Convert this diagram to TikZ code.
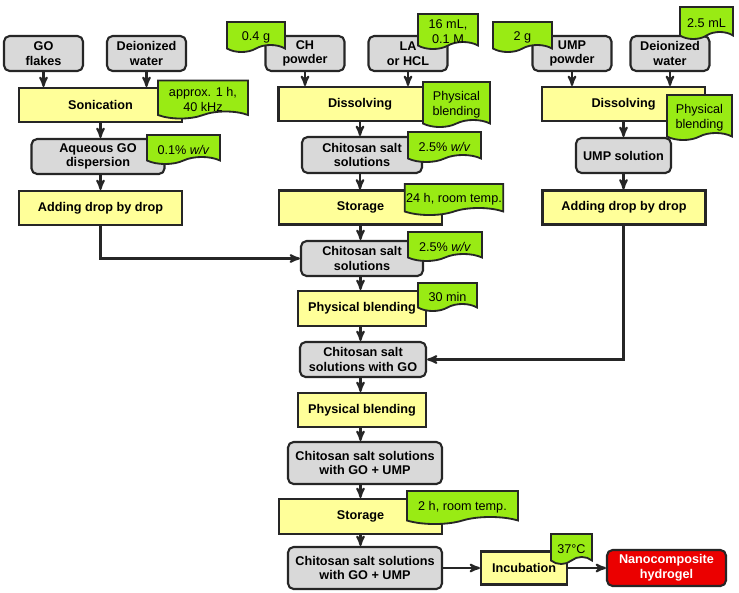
\documentclass[tikz,border=0pt]{standalone}
\usepackage{fontspec}
\setmainfont{Liberation Sans}
\usetikzlibrary{arrows, positioning, shapes}
\definecolor{my_gray}{RGB}{217, 217, 217}
\definecolor{my_yellow}{RGB}{255, 255, 153}
\definecolor{my_green}{RGB}{153, 235, 20}
\definecolor{my_red}{RGB}{235, 0, 0}
\newcommand\flowfont{\fontsize{9}{10.5}\selectfont}
\newcommand\down[1]{\raisebox{-2.5pt}[\height][\depth]{#1}}
\tikzset {
  sample/.style = {draw=black!85, line width=1.5pt, fill=my_gray, rounded corners=4pt, rectangle, align=center, font=\flowfont\bfseries, minimum width=1.975cm, minimum height=0.875cm, inner sep=1pt},
  stepbox/.style = {draw=black!85, line width=1.5pt, fill=my_yellow, rectangle, align=center, font=\flowfont\bfseries, minimum width=4.075cm, minimum height=0.85cm, inner sep=1pt},
  note/.style = {draw=black!85, line width=1.3pt, fill=my_green, tape, tape bend top=none, tape bend bottom=in and out, tape bend height=5pt, align=center, font=\flowfont, inner sep=1pt},
  product/.style = {draw=black!85, line width=1.5pt, fill=my_red, text=white, rounded corners=4pt, rectangle, align=center, font=\flowfont\bfseries, minimum height=0.9cm, inner sep=1pt},
  line/.style = {->, line width=1.5pt, color=black!85, >=stealth'},
}

\begin{document}
\begin{tikzpicture}[x=0.025cm, y=-0.025cm]
    \useasboundingbox (0,0) rectangle (739,593);

    % raw materials
    \node[sample] (go) at (43.5,53.5) {GO\\flakes};
    \node[sample] (water1) at (146.5,53.5) {Deionized\\water};
    \node[sample] (ch) at (305,53.5) {CH\\powder};
    \node[sample] (acid) at (408,53.5) {LA\\or HCL};
    \node[sample] (ump) at (572,53.5) {UMP\\powder};
    \node[sample] (water2) at (670,53.5) {Deionized\\water};

    \node[stepbox] (sonication) at (100.5,105) {Sonication};
    \node[stepbox] (dissolve1) at (360,104) {Dissolving};
    \node[stepbox] (dissolve2) at (623.5,104) {Dissolving};

    \node[sample, minimum width=3.325cm] (godisp) at (98,156.5) {Aqueous GO\\dispersion};
    \node[sample, minimum width=3cm, minimum height=0.9cm] (chsalt1) at (362,155) {Chitosan salt\\solutions};
    \node[sample, minimum width=2.375cm] (umpsol) at (623.5,155.5) {UMP solution};

    \node[stepbox] (adding1) at (100.5,208) {Adding drop by drop};
    \node[stepbox] (storage1) at (360.5,207.5) {Storage};
    \node[stepbox] (adding2) at (624,207.5) {Adding drop by drop};

    % main column
    \node[sample, minimum width=3.05cm] (chsalt2) at (362,258.5) {Chitosan salt\\solutions};
    \node[stepbox, minimum width=3.2cm, minimum height=0.875cm] (blend1) at (362,308.5) {Physical blending};
    \node[sample, minimum width=3.15cm] (chgo) at (363,359.5) {Chitosan salt\\solutions with GO};
    \node[stepbox, minimum width=3.2cm] (blend2) at (362,410) {Physical blending};
    \node[sample, minimum width=3.85cm, minimum height=1.05cm] (chump1) at (365,463) {Chitosan salt solutions\\with GO + UMP};
    \node[stepbox, minimum height=0.875cm] (storage2) at (360.5,516.5) {Storage};
    \node[sample, minimum width=3.85cm, minimum height=1.05cm] (chump2) at (365,568) {Chitosan salt solutions\\with GO + UMP};
    \node[stepbox, minimum width=2.15cm, minimum height=0.825cm] (incubation) at (524,568) {Incubation};
    \node[product, minimum width=2.975cm] (hydrogel) at (666.5,568) {Nanocomposite\\hydrogel};

    % conditions
    \node[note, minimum width=2.25cm, minimum height=0.95cm] (n_son) at (203,96) {\down{approx. 1 h,}\\\down{40 kHz}};
    \node[note, minimum width=1.825cm, minimum height=0.725cm] (n_conc1) at (183.5,146) {\down{0.1\% \textit{w/v}}};
    \node[note, minimum width=1.45cm, minimum height=0.75cm] (n_ch) at (256,33.5) {\down{0.4 g}};
    \node[note, minimum width=1.5cm, minimum height=0.875cm] (n_acid) at (448,28) {\down{16 mL,}\\\down{0.1 M}};
    \node[note, minimum width=1.675cm, minimum height=1.125cm] (n_dis1) at (456.5,101) {\down{Physical}\\\down{blending}};
    \node[note, minimum width=1.825cm, minimum height=0.75cm] (n_conc2) at (444.5,143.5) {\down{2.5\% \textit{w/v}}};
    \node[note, minimum width=2.3cm, minimum height=0.775cm] (n_sto1) at (454,196) {\down{24 h, room temp.}};
    \node[note, minimum width=1.475cm, minimum height=0.75cm] (n_ump) at (522.5,33.5) {\down{2 g}};
    \node[note, minimum width=1.325cm, minimum height=0.8cm] (n_water) at (706.5,19.5) {\down{2.5 mL}};
    \node[note, minimum width=1.625cm, minimum height=1.125cm] (n_dis2) at (699.5,114) {\down{Physical}\\\down{blending}};
    \node[note, minimum width=1.85cm, minimum height=0.725cm] (n_conc3) at (445,243) {\down{2.5\% \textit{w/v}}};
    \node[note, minimum width=1.475cm, minimum height=0.7cm] (n_blend) at (447.5,293.5) {\down{30 min}};
    \node[note, minimum width=2.775cm, minimum height=0.825cm] (n_sto2) at (462.5,504) {\down{2 h, room temp.}};
    \node[note, minimum width=1.025cm, minimum height=0.75cm] (n_inc) at (571.5,545.5) {\down{37°C}};

    \draw[line] (go.south) -- (go.south |- sonication.north);
    \draw[line] (water1.south) -- (water1.south |- sonication.north);
    \draw[line] (ch.south) -- (ch.south |- dissolve1.north);
    \draw[line] (acid.south) -- (acid.south |- dissolve1.north);
    \draw[line] (ump.south) -- (ump.south |- dissolve2.north);
    \draw[line] (water2.south) -- (water2.south |- dissolve2.north);

    \draw[line] (sonication.south) -- (sonication.south |- godisp.north);
    \draw[line] (sonication.south |- godisp.south) -- (sonication.south |- adding1.north);
    \draw[line] (dissolve1.south) -- (dissolve1.south |- chsalt1.north);
    \draw[line] (dissolve1.south |- chsalt1.south) -- (dissolve1.south |- storage1.north);
    \draw[line] (umpsol.north |- dissolve2.south) -- (umpsol.north);
    \draw[line] (umpsol.south) -- (umpsol.south |- adding2.north);

    \draw[line] (storage1.south) -- (storage1.south |- chsalt2.north);
    \draw[line] (adding1.south) |- (chsalt2.west);
    \draw[line] (storage1.south |- chsalt2.south) -- (storage1.south |- blend1.north);
    \draw[line] (storage1.south |- blend1.south) -- (storage1.south |- chgo.north);
    \draw[line] (umpsol.south |- adding2.south) |- (chgo.east);
    \draw[line] (storage1.south |- chgo.south) -- (storage1.south |- blend2.north);
    \draw[line] (storage1.south |- blend2.south) -- (storage1.south |- chump1.north);
    \draw[line] (storage1.south |- chump1.south) -- (storage1.south |- storage2.north);
    \draw[line] (storage1.south |- storage2.south) -- (storage1.south |- chump2.north);
    \draw[line] (chump2.east) -- (incubation.west);
    \draw[line] (incubation.east) -- (hydrogel.west);

\end{tikzpicture}
\end{document}
